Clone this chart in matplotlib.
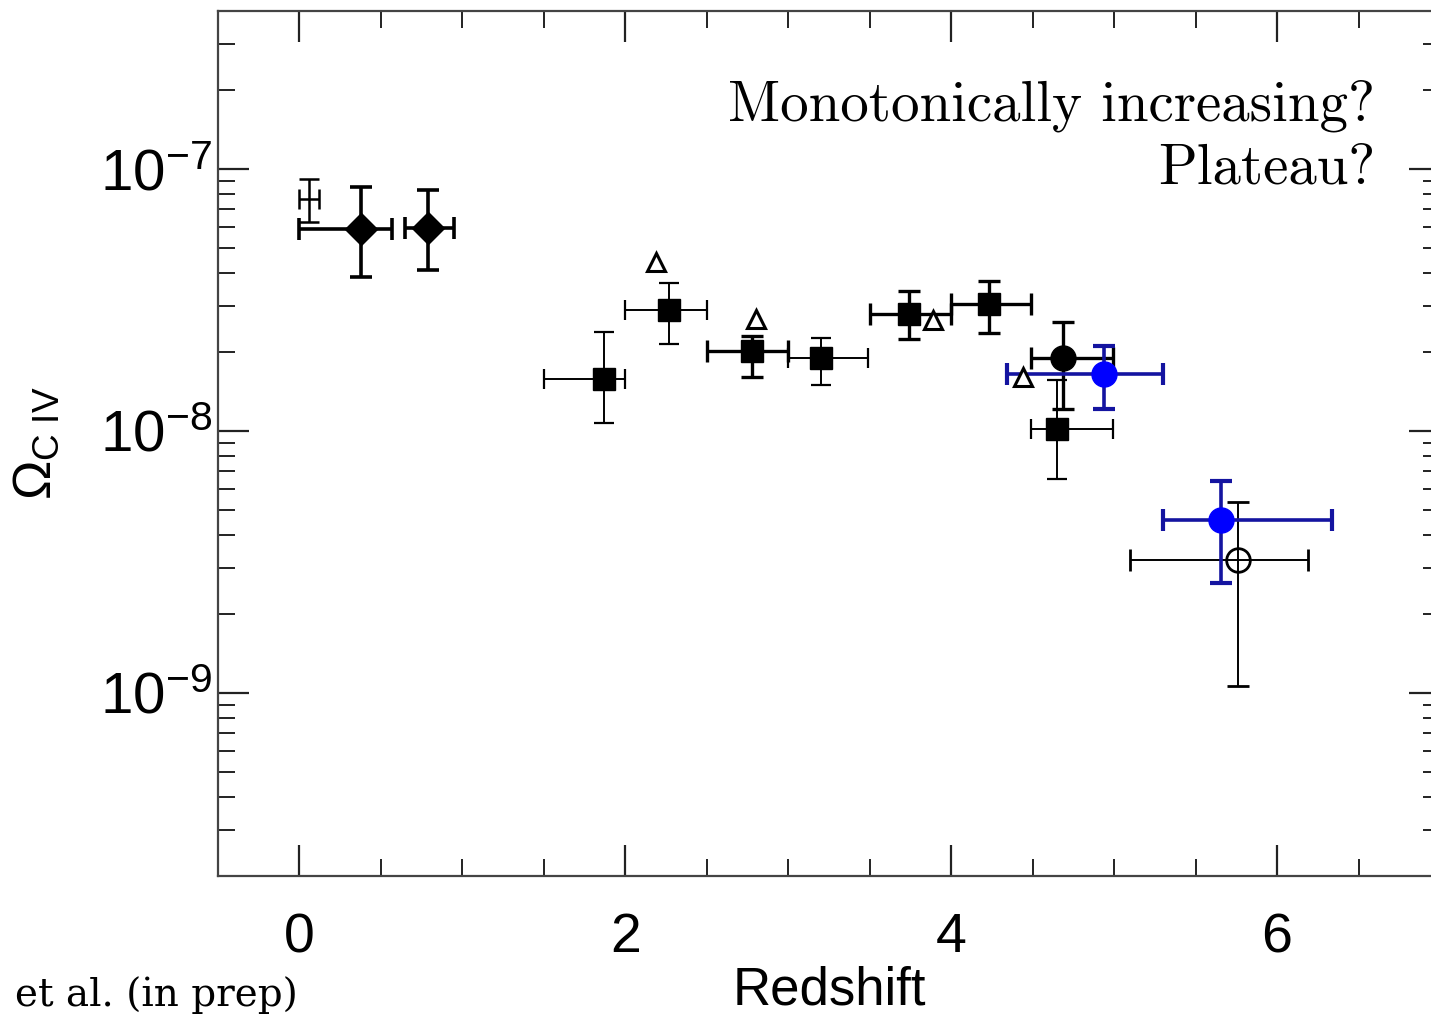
import matplotlib.pyplot as plt
import numpy as np

plt.rcParams['mathtext.fontset'] = 'custom'
plt.rcParams['mathtext.rm'] = 'Liberation Sans'
plt.rcParams['mathtext.it'] = 'Liberation Sans'
plt.rcParams['mathtext.bf'] = 'Liberation Sans'

# --- data (redshift, Omega_CIV, errors) ---
cross_z = [0.06]
cross_om = [7.67e-8]
cross_zerr = [[0.06], [0.06]]
cross_omerr = [[1.41e-8], [1.43e-8]]

diam_z = [0.38, 0.79]
diam_om = [5.89e-8, 5.94e-8]
diam_zerr = [[0.38, 0.14], [0.19, 0.16]]
diam_omerr = [[2.03e-8, 1.84e-8], [2.65e-8, 2.36e-8]]

sqthick_z = [2.775, 3.74, 4.23]
sqthick_om = [2.01e-8, 2.80e-8, 3.04e-8]
sqthick_zerr = [[0.275, 0.24, 0.23], [0.225, 0.26, 0.26]]
sqthick_omerr = [[0.41e-8, 0.55e-8, 0.67e-8], [0.30e-8, 0.61e-8, 0.68e-8]]

sqthin_z = [1.866, 2.271, 3.20, 4.647]
sqthin_om = [1.57e-8, 2.88e-8, 1.89e-8, 1.02e-8]
sqthin_zerr = [[0.368, 0.276, 0.20, 0.157], [0.129, 0.229, 0.29, 0.343]]
sqthin_omerr = [[0.50e-8, 0.74e-8, 0.39e-8, 0.365e-8], [0.82e-8, 0.78e-8, 0.38e-8, 0.54e-8]]

tri_z = [2.19, 2.80, 3.89, 4.44]
tri_om = [4.4e-8, 2.66e-8, 2.64e-8, 1.6e-8]

circ_z = [4.685]
circ_om = [1.9e-8]
circ_zerr = [[0.195], [0.305]]
circ_omerr = [[0.69e-8], [0.70e-8]]

blue_z = [4.935, 5.654]
blue_om = [1.65e-8, 4.56e-9]
blue_zerr = [[0.595, 0.354], [0.365, 0.686]]
blue_omerr = [[0.44e-8, 1.94e-9], [0.45e-8, 1.87e-9]]

open_z = [5.76]
open_om = [3.2e-9]
open_zerr = [[0.665], [0.43]]
open_omerr = [[2.14e-9], [2.15e-9]]

xticks = [0, 2, 4, 6]

W, H = 1431, 1016
fig = plt.figure(figsize=(W / 100, H / 100), dpi=100)
ax = fig.add_axes([218 / W, 140 / H, 1222 / W, 865 / H])

blk = 'black'
ax.errorbar(cross_z, cross_om, xerr=cross_zerr, yerr=cross_omerr, fmt='none',
            ecolor=blk, elinewidth=1.8, capsize=7, capthick=1.8)
ax.errorbar(diam_z, diam_om, xerr=diam_zerr, yerr=diam_omerr, fmt='D', ms=16,
            color=blk, ecolor=blk, elinewidth=2.6, capsize=8, capthick=2.6)
ax.errorbar(sqthick_z, sqthick_om, xerr=sqthick_zerr, yerr=sqthick_omerr, fmt='s', ms=16,
            color=blk, ecolor=blk, elinewidth=2.4, capsize=8, capthick=2.4)
ax.errorbar(sqthin_z, sqthin_om, xerr=sqthin_zerr, yerr=sqthin_omerr, fmt='s', ms=16,
            color=blk, ecolor=blk, elinewidth=1.4, capsize=7, capthick=1.6)
ax.errorbar(circ_z, circ_om, xerr=circ_zerr, yerr=circ_omerr, fmt='o', ms=18,
            color=blk, ecolor=blk, elinewidth=2.4, capsize=8, capthick=2.4)
ax.errorbar(open_z, open_om, xerr=open_zerr, yerr=open_omerr, fmt='o', ms=17,
            mfc='none', mec=blk, mew=2.0, ecolor=blk, elinewidth=1.4,
            capsize=8, capthick=1.8)
ax.errorbar(blue_z, blue_om, xerr=blue_zerr, yerr=blue_omerr, fmt='o', ms=18,
            color='#0000ff', ecolor='#1414a0', elinewidth=2.6, capsize=8, capthick=3,
            zorder=3)
ax.plot(tri_z, tri_om, ls='none', marker='^', ms=13, mfc='white', mec=blk, mew=2.2,
        zorder=4)

ax.set_yscale('log')
ax.set_xlim(-0.5, 7)
ax.set_ylim(2e-10, 4e-7)
ax.set_xticks(xticks)
ax.set_xticklabels([str(t) for t in xticks])
ax.xaxis.set_minor_locator(plt.MultipleLocator(0.5))
ax.set_yticks([1e-9, 1e-8, 1e-7])
ax.set_yticklabels([r'$10^{-9}$', r'$10^{-8}$', r'$10^{-7}$'])

ax.tick_params(which='both', direction='in', top=True, right=True, color='#222222')
ax.tick_params(which='major', length=22, width=1.6)
ax.tick_params(which='minor', length=12, width=1.4)
ax.tick_params(axis='x', which='major', labelsize=40, pad=26)
ax.tick_params(axis='y', which='major', labelsize=42, pad=4)
for lab in ax.get_xticklabels() + ax.get_yticklabels():
    lab.set_family('Liberation Sans')
for sp in ax.spines.values():
    sp.set_color('#444444')
    sp.set_linewidth(1.6)

ax.set_xlabel('Redshift', fontsize=38, family='Liberation Sans')
ax.xaxis.set_label_coords(0.5, -0.104)
ax.set_ylabel(r'$\Omega_{\rm C\ IV}$', fontsize=38)
ax.yaxis.set_label_coords(-0.128, 0.5)

ax.text(1375, H - 120, 'Monotonically increasing?', transform=None, fontsize=41,
        family='cmr10', ha='right', va='baseline')
ax.text(1375, H - 183, 'Plateau?', transform=None, fontsize=41,
        family='cmr10', ha='right', va='baseline')
fig.text(298 / W, 1 - 1006 / H, 'et al. (in prep)', fontsize=28,
         family='DejaVu Serif', ha='right', va='baseline')

fig.savefig('out.png', dpi=100)
